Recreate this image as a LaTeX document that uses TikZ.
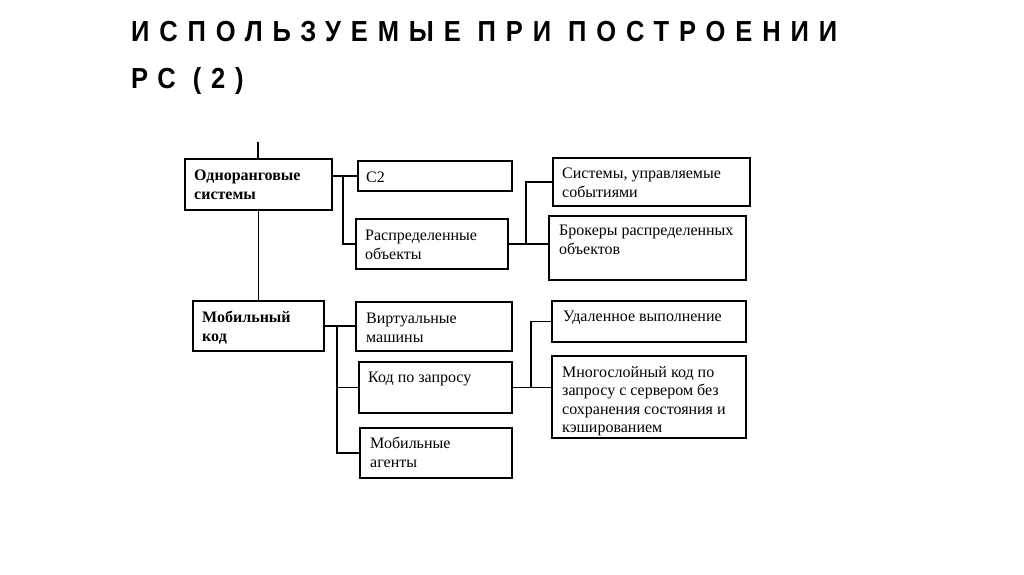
\documentclass[tikz,border=0pt]{standalone}
\usepackage{fontspec}
\setmainfont{Liberation Serif}
\newfontfamily\titlefont[LetterSpace=34, FakeStretch=0.88]{Liberation Sans}
\usepackage{tikz}
\usetikzlibrary{calc}

\tikzset{
    blk/.style={draw, line width=1.6pt, rectangle, anchor=north west, inner sep=0pt},
    txt/.style={anchor=base west, inner sep=0pt, align=left, font=\fontsize{16}{19}\selectfont},
    link/.style={line width=1.6pt}
}

\begin{document}
\begin{tikzpicture}[x=1pt, y=-1pt]

    \useasboundingbox (0,0) rectangle (1024,574);

    % 1. Title (anchored at the baseline of its last line)
    \node[anchor=base west, inner sep=0pt, align=left, font=\titlefont\bfseries\fontsize{29}{47}\selectfont] (title) at (131,88)
        {ИСПОЛЬЗУЕМЫЕ ПРИ ПОСТРОЕНИИ\\РС (2)};

    % 2. Left column boxes
    % (two-line texts sit on the baseline of their last line: 22 + 19 below the top)
    \node[blk, minimum width=147, minimum height=51] (odn) at (184,158) {};
    \node[txt, font=\bfseries\fontsize{16}{19}\selectfont] (odn-t) at ($(odn.north west)+(10,41)$) {Одноранговые\\системы};
    \node[blk, minimum width=131, minimum height=50] (mob) at (192,300) {};
    \node[txt, font=\bfseries\fontsize{16}{19}\selectfont] (mob-t) at ($(mob.north west)+(10,41)$) {Мобильный\\код};

    % 3. Middle column boxes
    \node[blk, minimum width=154, minimum height=30] (c2) at (357,160) {};
    \node[txt] (c2-t) at ($(c2.north west)+(9,22)$) {С2};
    \node[blk, minimum width=152, minimum height=50] (rasp) at (355,218) {};
    \node[txt] (rasp-t) at ($(rasp.north west)+(10,41)$) {Распределенные\\объекты};
    \node[blk, minimum width=156, minimum height=49] (virt) at (355,301) {};
    \node[txt] (virt-t) at ($(virt.north west)+(11,41)$) {Виртуальные\\машины};
    \node[blk, minimum width=153, minimum height=51] (kod) at (358,361) {};
    \node[txt] (kod-t) at ($(kod.north west)+(10,21)$) {Код по запросу};
    \node[blk, minimum width=152, minimum height=50] (agn) at (359,427) {};
    \node[txt] (agn-t) at ($(agn.north west)+(11,40)$) {Мобильные\\агенты};

    % 4. Right column boxes
    \node[blk, minimum width=197, minimum height=48] (sys) at (552,157) {};
    \node[txt] (sys-t) at ($(sys.north west)+(10,40)$) {Системы, управляемые\\событиями};
    \node[blk, minimum width=197, minimum height=64] (brk) at (548,215) {};
    \node[txt] (brk-t) at ($(brk.north west)+(11,39)$) {Брокеры распределенных\\объектов};
    \node[blk, minimum width=194, minimum height=41] (udl) at (551,300) {};
    \node[txt] (udl-t) at ($(udl.north west)+(12,21)$) {Удаленное выполнение};
    \node[blk, minimum width=194, minimum height=82] (mng) at (551,355) {};
    \node[txt, font=\fontsize{16}{18.5}\selectfont] (mng-t) at ($(mng.north west)+(11,77.5)$)
        {Многослойный код по\\запросу с сервером без\\сохранения состояния и\\кэшированием};

    % 5. Junction points
    \coordinate (top) at (258,142);
    \coordinate (j1) at (343,0);
    \coordinate (j2) at (526,0);
    \coordinate (j3) at (337,0);
    \coordinate (j4) at (531,0);

    % 6. Connectors
    \draw[link] (top) -- (top |- odn.north);
    \draw[link] (odn.south) -- (mob.north);

    \draw[link] (odn.east |- c2.west) -- (c2.west);
    \draw[link] (j1 |- c2.west) |- (rasp.west);

    \draw[link] (rasp.east) -- (j2 |- rasp.east);
    \draw[link] (j2 |- rasp.east) |- (sys.west);
    \draw[link] (j2 |- rasp.east) -- (brk.west |- rasp.east);

    \draw[link] (mob.east) -- (virt.west |- mob.east);
    \draw[link] (j3 |- mob.east) |- (kod.west);
    \draw[link] (j3 |- kod.west) |- (agn.west);

    \draw[link] (kod.east) -- (j4 |- kod.east);
    \draw[link] (j4 |- kod.east) |- (udl.west);
    \draw[link] (j4 |- kod.east) -- (mng.west |- kod.east);

\end{tikzpicture}
\end{document}
